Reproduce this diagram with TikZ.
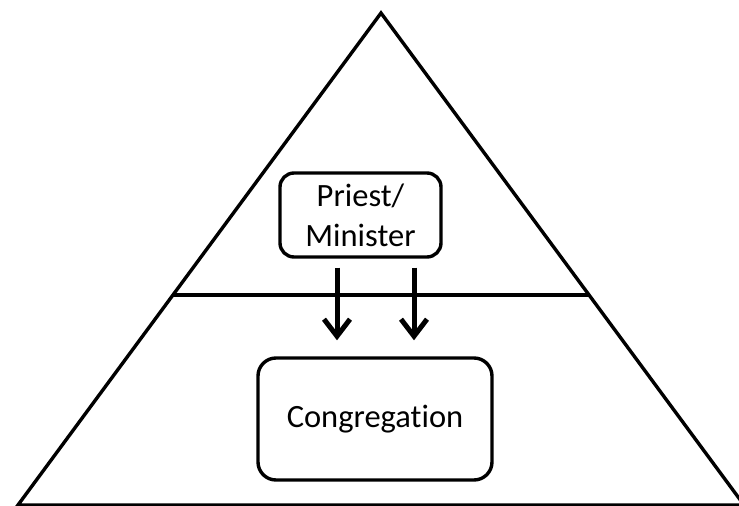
\documentclass[tikz,border=0pt]{standalone}
\usepackage{fontspec}
\setmainfont[Ligatures=NoCommon]{Carlito}
\usetikzlibrary{calc,arrows.meta}

\begin{document}
\begin{tikzpicture}[x=1pt,y=-1pt,
    box/.style={draw, line width=3.4pt, rounded corners=14pt, align=center, inner sep=0pt, font=\fontsize{32.5}{40}\selectfont},
    arr/.style={line width=5pt, -{Straight Barb[length=17pt,width=26pt,line width=5pt]}}]
    \useasboundingbox (0,0) rectangle (739,506);
    % pyramid
    \coordinate (apex) at (381,13);
    \coordinate (bl) at (18,505);
    \coordinate (br) at (744,505);
    \draw[line width=3.4pt, line join=miter] (br) -- (apex) -- (bl) -- (739,505);
    \draw[line width=3.4pt] ($(apex)!0.573!(bl)$) -- ($(apex)!0.573!(br)$);

    % boxes
    \node[box, minimum width=161pt, minimum height=84pt] (priest) at (360.5,215) {Priest/\\Minister};
    \node[box, minimum width=234pt, minimum height=122pt, rounded corners=18pt] (congregation) at (375,419) {Congregation};

    % arrows
    \draw[arr] ([xshift=-23.5pt,yshift=-9pt]priest.south) -- ([xshift=-38pt,yshift=16pt]congregation.north);
    \draw[arr] ([xshift=53.5pt,yshift=-9pt]priest.south) -- ([xshift=39pt,yshift=16pt]congregation.north);
\end{tikzpicture}
\end{document}
